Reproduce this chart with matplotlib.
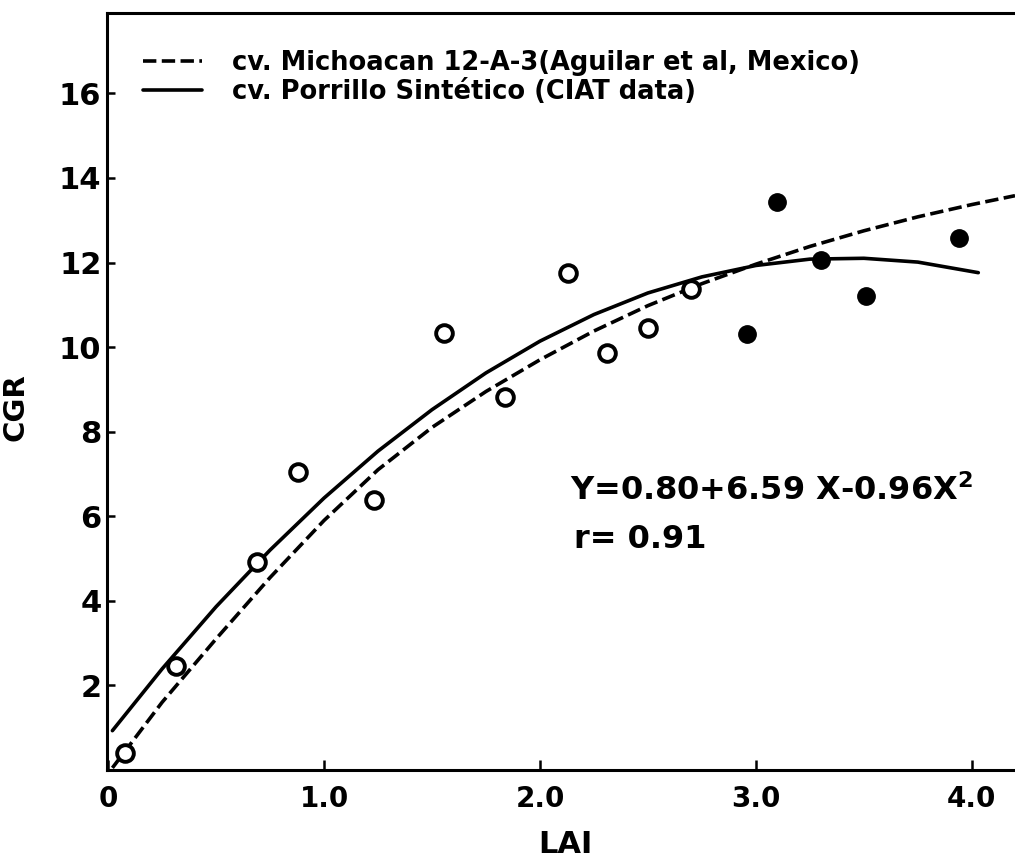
import numpy as np
import matplotlib.pyplot as plt

# curve readings (LAI, CGR)
dash_x = [0.02, 0.25, 0.5, 0.75, 1.0, 1.25, 1.5, 1.75, 2.0, 2.25, 2.5, 2.75, 3.0, 3.25, 3.5, 3.75, 4.0, 4.2]
dash_y = [0.05, 1.6, 3.1, 4.55, 5.9, 7.1, 8.1, 8.95, 9.7, 10.38, 10.98, 11.5, 11.96, 12.38, 12.75, 13.08, 13.37, 13.58]

solid_x = [0.02, 0.25, 0.5, 0.75, 1.0, 1.25, 1.5, 1.75, 2.0, 2.25, 2.5, 2.75, 3.0, 3.25, 3.5, 3.75, 4.03]
solid_y = [0.93, 2.39, 3.86, 5.2, 6.43, 7.54, 8.52, 9.39, 10.14, 10.77, 11.28, 11.66, 11.93, 12.08, 12.1, 12.01, 11.76]

# observed points
open_x = [0.08, 0.315, 0.69, 0.88, 1.23, 1.556, 1.84, 2.13, 2.31, 2.50, 2.70]
open_y = [0.40, 2.47, 4.92, 7.05, 6.39, 10.34, 8.83, 11.76, 9.85, 10.46, 11.38]
filled_x = [2.96, 3.10, 3.30, 3.51, 3.94]
filled_y = [10.32, 13.42, 12.05, 11.2, 12.59]

xticks = [0, 1.0, 2.0, 3.0, 4.0]
xticklabels = ['0', '1.0', '2.0', '3.0', '4.0']
yticks = [2, 4, 6, 8, 10, 12, 14, 16]

plt.rcParams['font.family'] = ['DejaVu Sans']
plt.rcParams['font.weight'] = 'bold'
plt.rcParams['mathtext.default'] = 'bf'

fig = plt.figure(figsize=(10.15, 8.6), dpi=100)
ax = fig.add_axes([107/1015, 1 - 770/860, 1 - 107/1015, (770 - 13)/860])

ax.plot(dash_x, dash_y, color='black', lw=2.6, dashes=(3.7, 1.5),
        label='cv. Michoacan 12-A-3(Aguilar et al, Mexico)')
ax.plot(solid_x, solid_y, color='black', lw=2.6, solid_capstyle='round',
        label='cv. Porrillo Sintético (CIAT data)')

ax.plot(open_x, open_y, 'o', ms=12, mfc='white', mec='black', mew=2.8, zorder=3)
ax.plot(filled_x, filled_y, 'o', ms=12.5, mfc='black', mec='black', zorder=3)

ax.set_xlim(-0.005, 4.2)
ax.set_ylim(0, 17.9)
ax.set_xticks(xticks)
ax.set_xticklabels(xticklabels)
ax.set_yticks(yticks)

ax.spines['right'].set_visible(False)
for s in ['left', 'top', 'bottom']:
    ax.spines[s].set_linewidth(2.2)

ax.tick_params(axis='x', direction='in', length=7, width=1.8, labelsize=20, pad=11)
ax.tick_params(axis='y', direction='in', length=6, width=1.8, labelsize=22, pad=4)

ax.set_xlabel('LAI', fontsize=22, fontweight='bold')
ax.set_ylabel('CGR', fontsize=21, fontweight='bold')
ax.xaxis.set_label_coords(0.505, -0.079)
ax.yaxis.set_label_coords(-0.085, 0.48)

ax.text(2.14, 6.6, 'Y=0.80+6.59 X-0.96X$^2$', fontsize=23, va='center', ha='left')
ax.text(2.16, 5.45, 'r= 0.91', fontsize=23, va='center', ha='left')

leg = ax.legend(loc='upper left', bbox_to_anchor=(0.025, 0.968), frameon=False,
                fontsize=18.5, handlelength=2.3, handletextpad=1.2, labelspacing=0.1,
                borderpad=0)
for h in leg.get_lines():
    h.set_linewidth(2.6)

fig.savefig('out.png', dpi=100)
